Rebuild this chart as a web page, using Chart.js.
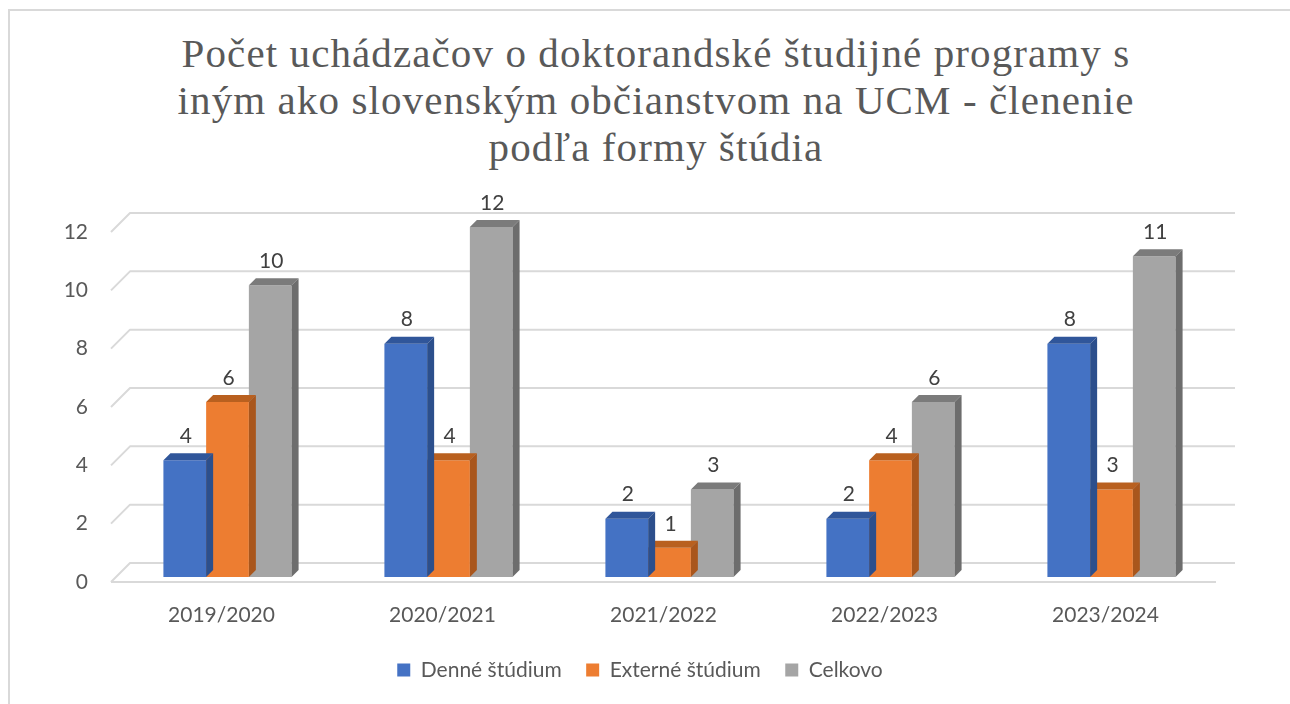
<!DOCTYPE html>
<html lang="sk">
<head>
<meta charset="utf-8">
<title>Počet uchádzačov</title>
<script src="https://cdn.jsdelivr.net/npm/chart.js@4.4.1/dist/chart.umd.min.js"></script>
<style>
    html, body { margin: 0; padding: 0; background: #fff; overflow: hidden; }
    #wrap { position: relative; width: 1290px; height: 704px; }
    #frame {
        position: absolute; left: 8px; top: 9px; width: 1400px; height: 800px;
        border: 2px solid #d9d9d9; box-sizing: border-box;
    }
    #title {
        position: absolute; left: 0; top: 30px; width: 1312px; margin: 0;
        text-align: center; font-family: 'Liberation Serif', serif; font-weight: normal;
        font-size: 41px; line-height: 47px; letter-spacing: 1.1px; color: #595959;
    }
    canvas { position: absolute; left: 0; top: 0; }
</style>
</head>
<body>
<div id="wrap">
    <div id="frame"></div>
    <h1 id="title">Počet uchádzačov o doktorandské študijné programy s<br>iným ako slovenským občianstvom na UCM - členenie<br>podľa formy štúdia</h1>
    <canvas id="chart" width="1290" height="704"></canvas>
</div>
<script>
const categories = ['2019/2020', '2020/2021', '2021/2022', '2022/2023', '2023/2024'];
const denneStudium = [4, 8, 2, 2, 8];
const externeStudium = [6, 4, 1, 4, 3];
const celkovo = [10, 12, 3, 6, 11];
const yTickValues = [0, 2, 4, 6, 8, 10, 12];

const seriesNames = ['Denné štúdium', 'Externé štúdium', 'Celkovo'];
const frontColors = ['#4472c4', '#ed7d31', '#a5a5a5'];
const topColors = ['#30569a', '#b9601f', '#7b7b7b'];
const sideColors = ['#2c4f8c', '#a9561c', '#6d6d6d'];

const DEPTH = 7;
const textFont = 'Lato, "Open Sans", sans-serif';

// 3D wall: front edge is shifted left/down, back wall right/up
const FRONT = { dx: -6, dy: 5 };
const BACK = { dx: 13, dy: -14 };

const wallPlugin = {
    id: 'wall',
    beforeDatasetsDraw(chart) {
        const { ctx, chartArea, scales } = chart;
        const y = scales.y;
        ctx.save();
        ctx.strokeStyle = '#d9d9d9';
        ctx.lineWidth = 2;
        ctx.lineJoin = 'round';
        yTickValues.forEach((v) => {
            const py = y.getPixelForValue(v);
            ctx.beginPath();
            ctx.moveTo(chartArea.left + FRONT.dx, py + FRONT.dy);
            ctx.lineTo(chartArea.left + BACK.dx, py + BACK.dy);
            ctx.lineTo(chartArea.right + BACK.dx, py + BACK.dy);
            ctx.stroke();
        });
        const p0 = y.getPixelForValue(0);
        ctx.beginPath();
        ctx.moveTo(chartArea.left + FRONT.dx, p0 + FRONT.dy);
        ctx.lineTo(chartArea.right + FRONT.dx, p0 + FRONT.dy);
        ctx.stroke();
        ctx.restore();
    },
};

const boxPlugin = {
    id: 'box3d',
    afterDatasetDraw(chart, args) {
        const { ctx } = chart;
        const i = args.index;
        ctx.save();
        args.meta.data.forEach((bar) => {
            const { x, y, base, width } = bar.getProps(['x', 'y', 'base', 'width'], true);
            const left = x - width / 2;
            const right = x + width / 2;

            ctx.fillStyle = topColors[i];
            ctx.beginPath();
            ctx.moveTo(left, y);
            ctx.lineTo(left + DEPTH, y - DEPTH);
            ctx.lineTo(right + DEPTH, y - DEPTH);
            ctx.lineTo(right, y);
            ctx.closePath();
            ctx.fill();

            ctx.fillStyle = sideColors[i];
            ctx.beginPath();
            ctx.moveTo(right, y);
            ctx.lineTo(right + DEPTH, y - DEPTH);
            ctx.lineTo(right + DEPTH, base - DEPTH);
            ctx.lineTo(right, base);
            ctx.closePath();
            ctx.fill();
        });
        ctx.restore();
    },
    afterDatasetsDraw(chart) {
        const { ctx } = chart;
        ctx.save();
        ctx.fillStyle = '#404040';
        ctx.font = `21px ${textFont}`;
        ctx.textAlign = 'center';
        ctx.textBaseline = 'middle';
        chart.data.datasets.forEach((ds, i) => {
            chart.getDatasetMeta(i).data.forEach((bar, j) => {
                const { x, y } = bar.getProps(['x', 'y'], true);
                ctx.fillText(String(ds.data[j]), x + 1, y - 24);
            });
        });
        ctx.restore();
    },
};

new Chart(document.getElementById('chart'), {
    type: 'bar',
    data: {
        labels: categories,
        datasets: [
            { label: seriesNames[0], data: denneStudium, backgroundColor: frontColors[0] },
            { label: seriesNames[1], data: externeStudium, backgroundColor: frontColors[1] },
            { label: seriesNames[2], data: celkovo, backgroundColor: frontColors[2] },
        ],
    },
    options: {
        responsive: false,
        animation: false,
        devicePixelRatio: 1,
        layout: { padding: { top: 227, right: 10, bottom: 13.5, left: 0 } },
        datasets: {
            bar: { categoryPercentage: 0.58, barPercentage: 1, borderWidth: 0 },
        },
        scales: {
            x: {
                grid: { display: false },
                border: { display: false },
                ticks: {
                    color: '#595959',
                    font: { family: textFont, size: 21 },
                    padding: 18,
                    labelOffset: -6,
                },
                afterFit: (scale) => { scale.height = 58; },
            },
            y: {
                min: 0,
                max: 12,
                grid: { display: false, drawTicks: false },
                border: { display: false },
                ticks: {
                    stepSize: 2,
                    color: '#595959',
                    font: { family: textFont, size: 21 },
                    padding: 29,
                    labelOffset: 5,
                },
                afterFit: (scale) => { scale.width = 117; },
            },
            yRight: {
                position: 'right',
                display: true,
                grid: { display: false },
                border: { display: false },
                ticks: { display: false },
                afterFit: (scale) => { scale.width = 58; },
            },
        },
        plugins: {
            legend: {
                position: 'bottom',
                labels: {
                    boxWidth: 13,
                    boxHeight: 13,
                    padding: 24.5,
                    color: '#595959',
                    font: { family: textFont, size: 21 },
                },
            },
            tooltip: { enabled: false },
        },
    },
    plugins: [wallPlugin, boxPlugin],
});
</script>
</body>
</html>
